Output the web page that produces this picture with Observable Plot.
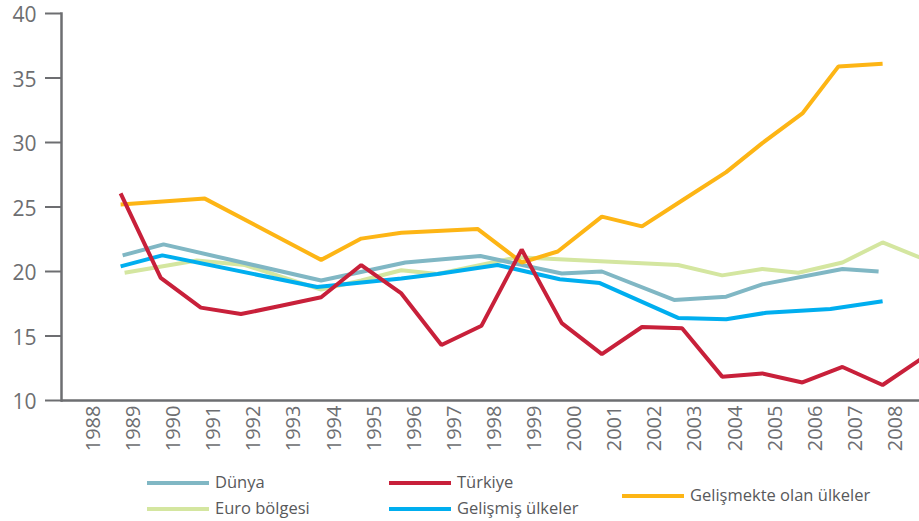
<!DOCTYPE html>
<html>
<head>
<meta charset="utf-8">
<script src="https://cdn.jsdelivr.net/npm/d3@7"></script>
<script src="https://cdn.jsdelivr.net/npm/@observablehq/plot@0.6"></script>
<style>
  html, body { margin: 0; padding: 0; background: #fff; }
  #wrap { position: relative; width: 919px; height: 521px; font-family: "Open Sans", sans-serif; }
  #chart svg { display: block; }
  .lg-sw { position: absolute; height: 4px; width: 62px; }
  .lg-tx { position: absolute; font-size: 16.5px; color: #58595b; line-height: 20px; white-space: nowrap; }
</style>
</head>
<body>
<div id="wrap">
  <div id="chart"></div>
</div>
<script>
// ---- data ----
const yTicks = [10, 15, 20, 25, 30, 35, 40];
const yearTicks = [1988, 1989, 1990, 1991, 1992, 1993, 1994, 1995, 1996, 1997, 1998,
                   1999, 2000, 2001, 2002, 2003, 2004, 2005, 2006, 2007, 2008];

const seriesNames = ["Euro bölgesi", "Dünya", "Gelişmiş ülkeler", "Gelişmekte olan ülkeler", "Türkiye"];
const seriesColors = ["#d4e6a0", "#80b7c4", "#00aeef", "#fdb515", "#c8203a"];

const euroYears  = [1989.1, 1990.9, 1992.1, 1994.0, 1995.0, 1996.0, 1996.9, 1998.9, 2002.9, 2004.0, 2005.0, 2005.9, 2007.0, 2008.0, 2009.0];
const euroValues = [19.9, 20.85, 20.5, 18.6, 19.3, 20.1, 19.8, 21.1, 20.5, 19.7, 20.2, 19.9, 20.7, 22.25, 21.0];

const dunyaYears  = [1989.05, 1990.07, 1994.0, 1996.1, 1997.97, 2000.0, 2001.0, 2002.8, 2004.1, 2005.0, 2007.0, 2007.9];
const dunyaValues = [21.25, 22.1, 19.3, 20.7, 21.2, 19.85, 20.0, 17.8, 18.05, 19.0, 20.2, 20.0];

const gelismisYears  = [1989.0, 1990.04, 1993.9, 1996.0, 1996.9, 1998.4, 1999.95, 2000.95, 2002.9, 2004.1, 2005.1, 2006.7, 2008.0];
const gelismisValues = [20.4, 21.25, 18.8, 19.45, 19.8, 20.5, 19.4, 19.1, 16.4, 16.3, 16.8, 17.1, 17.7];

const gelismekteYears  = [1989.0, 1991.1, 1994.0, 1995.0, 1996.0, 1997.9, 1999.0, 1999.9, 2001.0, 2002.0, 2003.0, 2004.1, 2005.0, 2006.0, 2006.9, 2008.0];
const gelismekteValues = [25.2, 25.65, 20.9, 22.55, 23.0, 23.3, 20.7, 21.55, 24.25, 23.5, 25.5, 27.7, 29.95, 32.25, 35.9, 36.1];

const turkiyeYears  = [1989, 1990, 1991, 1992, 1993, 1994, 1995, 1996, 1997, 1998, 1999,
                       2000, 2001, 2002, 2003, 2004, 2005, 2006, 2007, 2008, 2009];
const turkiyeValues = [26.05, 19.5, 17.2, 16.7, 17.35, 18.0, 20.5, 18.3, 14.3, 15.8, 21.7,
                       16.0, 13.6, 15.7, 15.6, 11.85, 12.1, 11.4, 12.6, 11.2, 13.3];

// legend layout (order as in the reference)
const legendOrder = ["Dünya", "Euro bölgesi", "Türkiye", "Gelişmiş ülkeler", "Gelişmekte olan ülkeler"];

// ---- build table ----
const allYears = [euroYears, dunyaYears, gelismisYears, gelismekteYears, turkiyeYears];
const allValues = [euroValues, dunyaValues, gelismisValues, gelismekteValues, turkiyeValues];
const rows = [];
seriesNames.forEach((name, i) => {
  allYears[i].forEach((yr, j) => rows.push({series: name, year: yr, value: allValues[i][j]}));
});

const axisColor = "#6d6e71";

const chart = Plot.plot({
  width: 919,
  height: 462,
  marginLeft: 61,
  marginRight: 0,
  marginTop: 13,
  marginBottom: 62,
  style: {fontFamily: "'Open Sans', sans-serif", color: axisColor, background: "#fff", overflow: "visible"},
  x: {domain: [1987.526, 2008.92]},
  y: {domain: [10, 40]},
  color: {domain: seriesNames, range: seriesColors},
  marks: [
    Plot.axisY({ticks: yTicks, tickSize: 16, text: null, stroke: axisColor, strokeWidth: 2, label: null}),
    Plot.axisY({ticks: yTicks, tickSize: 0, tickPadding: 25, fontSize: 21, dy: 2, label: null, fill: axisColor}),
    Plot.axisX({ticks: yearTicks, tickSize: 0, tickRotate: -90, tickPadding: 5, dx: 13, fontSize: 20, label: null, fill: axisColor, tickFormat: d => String(d)}),
    Plot.frame({anchor: "left", stroke: axisColor, strokeWidth: 2.5}),
    Plot.ruleY([10], {stroke: axisColor, strokeWidth: 2.5}),
    Plot.line(rows, {x: "year", y: "value", z: "series", stroke: "series", strokeWidth: 4,
      strokeLinejoin: "miter", strokeLinecap: "butt", clip: true})
  ]
});
document.getElementById("chart").appendChild(chart);

// ---- legend ----
const legendPos = {
  "Dünya": [147, 483],
  "Euro bölgesi": [147, 509],
  "Türkiye": [389, 483],
  "Gelişmiş ülkeler": [389, 509],
  "Gelişmekte olan ülkeler": [622, 496]
};
const wrap = document.getElementById("wrap");
legendOrder.forEach(name => {
  const [lx, ly] = legendPos[name];
  const sw = document.createElement("div");
  sw.className = "lg-sw";
  sw.style.left = lx + "px";
  sw.style.top = (ly - 2) + "px";
  sw.style.background = seriesColors[seriesNames.indexOf(name)];
  wrap.appendChild(sw);
  const tx = document.createElement("div");
  tx.className = "lg-tx";
  tx.style.left = (lx + 68) + "px";
  tx.style.top = (ly - 11) + "px";
  tx.textContent = name;
  wrap.appendChild(tx);
});
</script>
</body>
</html>
